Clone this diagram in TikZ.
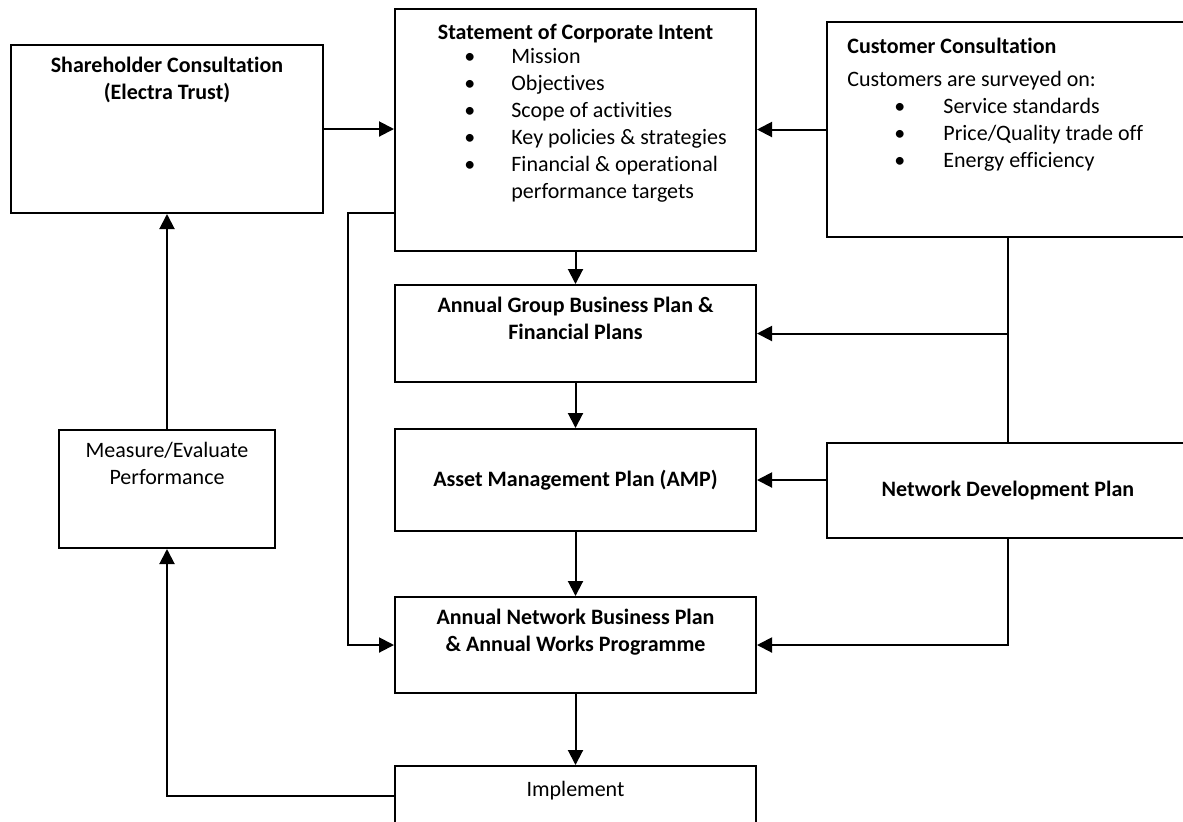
\documentclass[tikz,border=0pt]{standalone}
\usepackage{fontspec}
\setmainfont{Carlito}[Ligatures={NoCommon}]
\usepackage{tikz}
\usetikzlibrary{arrows.meta, positioning}
\newcommand{\diagfont}{\fontsize{11}{13.5}\selectfont}
\newcommand{\bul}{\makebox[23.5pt][l]{•}}
\tikzset{
    panel/.style={rectangle, draw=black, line width=1pt, inner sep=0pt, font=\diagfont\bfseries},
    caption/.style={inner sep=0pt, align=center, font=\diagfont\bfseries, execute at begin node=\strut},
    plaincaption/.style={caption, font=\diagfont},
    listing/.style={inner sep=0pt, align=left, font=\diagfont, execute at begin node=\strut},
    arrow/.style={-{Triangle[length=7.5pt,width=7.5pt]}, line width=1pt},
    link/.style={line width=1pt}
}

\begin{document}
\begin{tikzpicture}[x=0.5pt, y=-0.5pt]
    \useasboundingbox (0,0) rectangle (1183,821);

    % boxes
    \node [panel, minimum width=156pt, minimum height=84pt] (sh) at (167,129) {};
    \node [panel, minimum width=180.5pt, minimum height=121pt] (sci) at (575.5,130) {};
    \node [panel, minimum width=181pt, minimum height=107.5pt] (cust) at (1008,129.5) {};
    \node [panel, minimum width=180.5pt, minimum height=48.5pt] (agbp) at (575.5,333.5) {};
    \node [panel, minimum width=180.5pt, minimum height=51pt] (amp) at (575.5,480) {Asset Management Plan (AMP)};
    \node [panel, minimum width=181pt, minimum height=47.5pt] (ndp) at (1008,490.5) {Network Development Plan};
    \node [panel, minimum width=108pt, minimum height=59pt] (meas) at (167,489) {};
    \node [panel, minimum width=180.5pt, minimum height=48pt] (anbp) at (575.5,645) {};
    \node [panel, minimum width=180.5pt, minimum height=30pt] (impl) at (575.5,796) {};

    % texts
    \node [caption, below=6.3pt of sh.north] (shtext) {Shareholder Consultation\\(Electra Trust)};
    \node [caption, below=6.3pt of sci.north] (scititle) {Statement of Corporate Intent};
    \node [listing, anchor=north west, xshift=35pt] (scilist) at (scititle.south -| sci.west)
        {\bul Mission\\ \bul Objectives\\ \bul Scope of activities\\ \bul Key policies \& strategies\\
         \bul Financial \& operational\\ \hspace*{23.5pt}performance targets};
    \node [listing, below right=8.5pt and 10.5pt of cust.north west] (custtext)
        {\textbf{Customer Consultation}\\[3pt] Customers are surveyed on:\\
         \hspace*{23.5pt}\makebox[24.5pt][l]{•}Service standards\\
         \hspace*{23.5pt}\makebox[24.5pt][l]{•}Price/Quality trade off\\
         \hspace*{23.5pt}\makebox[24.5pt][l]{•}Energy efficiency};
    \node [caption, below=6.3pt of agbp.north] (agbptext) {Annual Group Business Plan \&\\Financial Plans};
    \node [plaincaption, below=6.3pt of meas.north] (meastext) {Measure/Evaluate\\Performance};
    \node [caption, below=6.3pt of anbp.north] (anbptext) {Annual Network Business Plan\\\& Annual Works Programme};
    \node [plaincaption, below=6.3pt of impl.north] (impltext) {Implement};

    % connectors
    \coordinate (sciloop) at (348,213);
    \draw [arrow] (sh.east) -- (sh.east -| sci.west);
    \draw [arrow] (cust.west) -- (cust.west -| sci.east);
    \draw [arrow] (sci) -- (agbp);
    \draw [arrow] (agbp) -- (amp);
    \draw [arrow] (amp) -- (anbp);
    \draw [arrow] (anbp) -- (impl);
    \draw [arrow] (sciloop -| sci.west) -- (sciloop) |- (anbp.west);
    \draw [link] (cust.south) -- (ndp.north);
    \draw [arrow] (cust.south |- agbp.east) -- (agbp.east);
    \draw [arrow] (ndp.west |- amp.east) -- (amp.east);
    \draw [arrow] (ndp.south) |- (anbp.east);
    \draw [arrow] (meas) -- (sh);
    \draw [arrow] (impl.west) -| (meas.south);
\end{tikzpicture}
\end{document}
